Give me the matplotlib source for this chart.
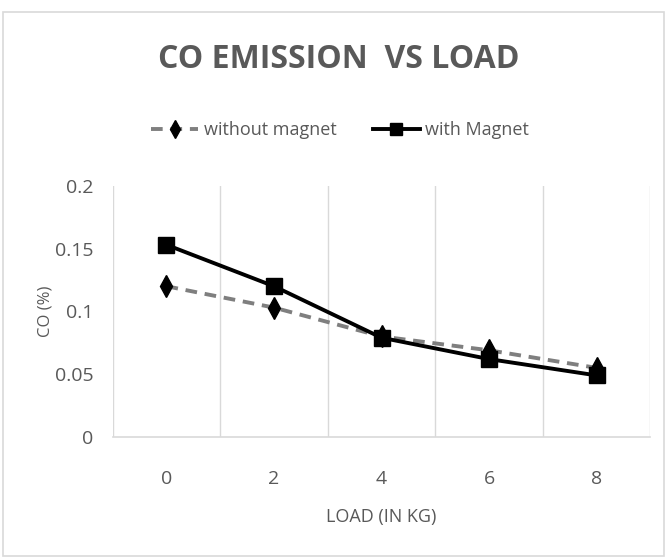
"""CO emission vs load, with and without magnet."""

import matplotlib
matplotlib.use("Agg")
import matplotlib.pyplot as plt
from matplotlib.patches import Rectangle

# Data
LOADS = ["0", "2", "4", "6", "8"]
WITHOUT_MAGNET = [0.120, 0.103, 0.080, 0.069, 0.055]
WITH_MAGNET = [0.153, 0.120, 0.079, 0.062, 0.049]
Y_TICKS = [0, 0.05, 0.1, 0.15, 0.2]
Y_TICK_LABELS = ["0", "0.05", "0.1", "0.15", "0.2"]

TEXT_COLOR = "#595959"
GRID_COLOR = "#d9d9d9"
DASH_COLOR = "#7f7f7f"

plt.rcParams["font.family"] = ["Open Sans", "DejaVu Sans"]

fig = plt.figure(figsize=(6.67, 5.58), dpi=100)
fig.patches.append(Rectangle((0.004, 0.004), 0.992, 0.975, transform=fig.transFigure,
                             fill=False, edgecolor=GRID_COLOR, linewidth=1.2))

ax = fig.add_axes([0.169, 0.217, 0.806, 0.45])
x = list(range(len(LOADS)))

ax.plot(x, WITHOUT_MAGNET, color=DASH_COLOR, linestyle=(0, (3, 2)), linewidth=2.8,
        marker="d", markersize=11, markerfacecolor="black", markeredgecolor="black",
        label="without magnet", zorder=3)
ax.plot(x, WITH_MAGNET, color="black", linewidth=2.8, marker="s", markersize=11,
        markerfacecolor="black", markeredgecolor="black", label="with Magnet", zorder=4)

ax.set_xlim(-0.5, len(LOADS) - 0.5)
ax.set_ylim(0, 0.2)
ax.set_xticks(x)
ax.set_xticklabels(LOADS)
ax.set_yticks(Y_TICKS)
ax.set_yticklabels(Y_TICK_LABELS)

# vertical category-boundary gridlines
ax.set_xticks([i + 0.5 for i in range(-1, len(LOADS))], minor=True)
ax.grid(axis="x", which="minor", color=GRID_COLOR, linewidth=1)
ax.tick_params(which="both", length=0, colors=TEXT_COLOR, labelsize=14)
ax.tick_params(axis="x", pad=24)
ax.tick_params(axis="y", pad=14)

for side in ("top", "right", "left"):
    ax.spines[side].set_visible(False)
ax.spines["bottom"].set_color(GRID_COLOR)
ax.spines["bottom"].set_linewidth(1.2)

ax.set_xlabel("LOAD (IN KG)", fontsize=13, color=TEXT_COLOR, labelpad=14)
ax.set_ylabel("CO (%)", fontsize=12, color=TEXT_COLOR, labelpad=1)

fig.text(0.508, 0.893, "CO EMISSION  VS LOAD", ha="center", va="center",
         fontsize=23, fontweight="bold", color=TEXT_COLOR)

fig.legend(loc="center", bbox_to_anchor=(0.51, 0.767), ncol=2, frameon=False,
           fontsize=13, labelcolor=TEXT_COLOR, handlelength=2.6, columnspacing=2.0,
           handletextpad=0.3, markerscale=0.8)

fig.savefig("out.png", dpi=100)
